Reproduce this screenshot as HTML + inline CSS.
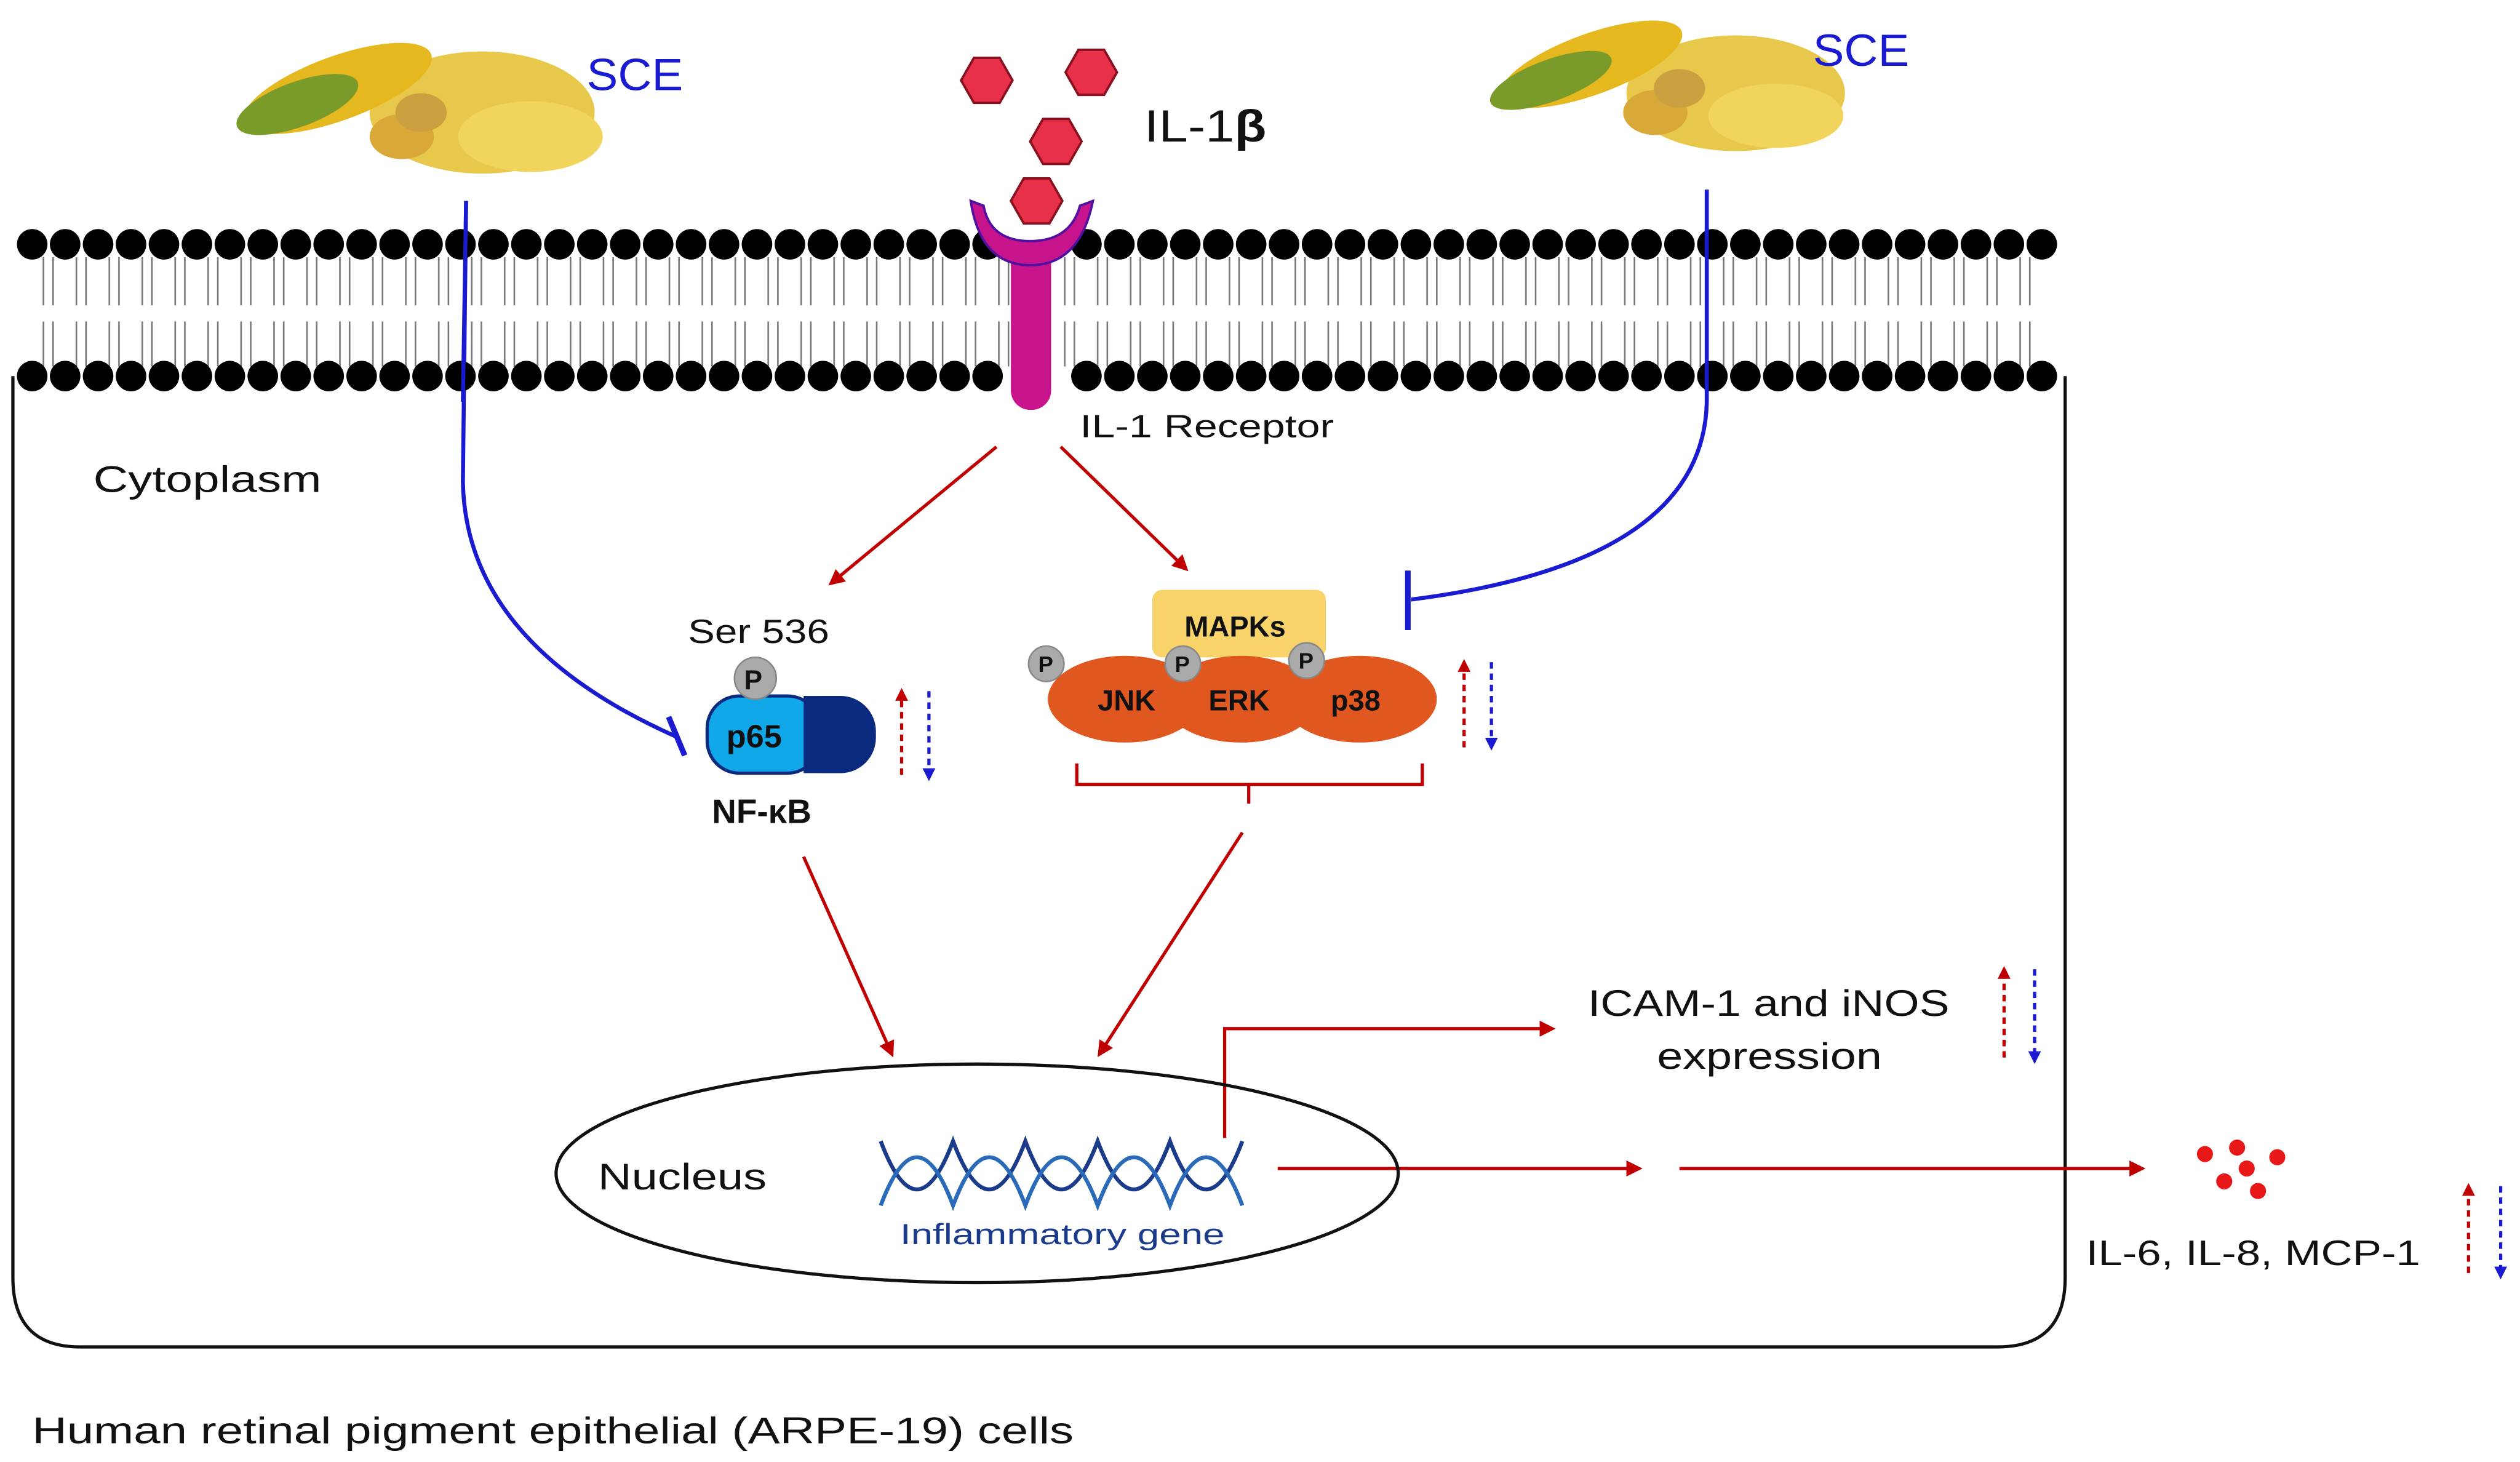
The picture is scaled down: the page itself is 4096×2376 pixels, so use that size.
<!DOCTYPE html>
<html><head><meta charset="utf-8"><style>
html,body{margin:0;padding:0;background:#fff;}
svg{display:block;}
text{font-family:"Liberation Sans",sans-serif;}
</style></head><body>
<svg width="4096" height="2376" viewBox="0 0 1568 909.6" xmlns="http://www.w3.org/2000/svg">
<defs>
<marker id="ar" markerWidth="10" markerHeight="10" refX="8" refY="5" orient="auto" markerUnits="userSpaceOnUse"><path d="M0,0 L10,5 L0,10 z" fill="#c00000"/></marker>
<marker id="ars" markerWidth="8" markerHeight="8" refX="6" refY="4" orient="auto" markerUnits="userSpaceOnUse"><path d="M0,0 L8,4 L0,8 z" fill="#c00000"/></marker>
<marker id="abs" markerWidth="8" markerHeight="8" refX="6" refY="4" orient="auto" markerUnits="userSpaceOnUse"><path d="M0,0 L8,4 L0,8 z" fill="#1a1ad0"/></marker>
<pattern id="tails" x="20" y="0" width="20.5" height="10" patternUnits="userSpaceOnUse">
<line x1="7" y1="0" x2="7" y2="10" stroke="#777" stroke-width="1"/><line x1="13" y1="0" x2="13" y2="10" stroke="#777" stroke-width="1"/>
</pattern>
</defs>
<path d="M8,234 L8,795 Q8,838 50,838 L1243,838 Q1285,838 1285,795 L1285,234" fill="none" stroke="#111" stroke-width="2"/>
<rect x="20" y="160" width="1255" height="30" fill="url(#tails)"/>
<rect x="20" y="200" width="1255" height="28" fill="url(#tails)"/>
<g>
<ellipse cx="300" cy="70" rx="70" ry="38" fill="#e8c84a"/>
<ellipse cx="330" cy="85" rx="45" ry="22" fill="#f0d45c"/>
<ellipse cx="210" cy="55" rx="62" ry="20" fill="#e6b820" transform="rotate(-20 210 55)"/>
<ellipse cx="185" cy="65" rx="40" ry="14" fill="#7a9a2a" transform="rotate(-20 185 65)"/>
<ellipse cx="250" cy="85" rx="20" ry="14" fill="#d8a838"/>
<ellipse cx="262" cy="70" rx="16" ry="12" fill="#caa040"/>
</g>
<text x="365" y="56" font-size="28" fill="#1a1ad0" textLength="60" lengthAdjust="spacingAndGlyphs">SCE</text>
<g>
<ellipse cx="1080" cy="58" rx="68" ry="36" fill="#e8c84a"/>
<ellipse cx="1105" cy="72" rx="42" ry="20" fill="#f0d45c"/>
<ellipse cx="990" cy="40" rx="60" ry="19" fill="#e6b820" transform="rotate(-20 990 40)"/>
<ellipse cx="965" cy="50" rx="40" ry="13" fill="#7a9a2a" transform="rotate(-20 965 50)"/>
<ellipse cx="1030" cy="70" rx="20" ry="14" fill="#d8a838"/>
<ellipse cx="1045" cy="55" rx="16" ry="12" fill="#caa040"/>
</g>
<text x="1128" y="41" font-size="28" fill="#1a1ad0" textLength="60" lengthAdjust="spacingAndGlyphs">SCE</text>
<g fill="#e8304a" stroke="#8a1020" stroke-width="1.5">
<polygon points="598,50 606,36 622,36 630,50 622,64 606,64"/>
<polygon points="663,45 671,31 687,31 695,45 687,59 671,59"/>
<polygon points="641,88 649,74 665,74 673,88 665,102 649,102"/>
<polygon points="629,125 637,111 653,111 661,125 653,139 637,139"/>
</g>
<text x="712" y="88" font-size="28" fill="#111" textLength="76" lengthAdjust="spacingAndGlyphs">IL-1<tspan font-weight="bold">β</tspan></text>
<text x="672" y="272" font-size="20" fill="#111" textLength="158" lengthAdjust="spacingAndGlyphs">IL-1 Receptor</text>
<text x="58" y="306" font-size="23" fill="#111" textLength="142" lengthAdjust="spacingAndGlyphs">Cytoplasm</text>
<path d="M290,125 L288,300 Q290,400 420,458" fill="none" stroke="#1a1ad0" stroke-width="2.5"/>
<line x1="416" y1="446" x2="426" y2="470" stroke="#1a1ad0" stroke-width="3.5"/>
<path d="M1062,118 L1062,250 Q1060,350 878,373" fill="none" stroke="#1a1ad0" stroke-width="2.5"/>
<line x1="876" y1="355" x2="876" y2="392" stroke="#1a1ad0" stroke-width="3.5"/>
<g stroke="#c00000" stroke-width="2" fill="none">
<line x1="620" y1="278" x2="517" y2="363" marker-end="url(#ar)"/>
<line x1="660" y1="278" x2="738" y2="354" marker-end="url(#ar)"/>
<line x1="500" y1="533" x2="555" y2="656" marker-end="url(#ar)"/>
<line x1="773" y1="518" x2="684" y2="656" marker-end="url(#ar)"/>
<path d="M670,475 L670,488 L885,488 L885,475"/>
<line x1="777" y1="488" x2="777" y2="500"/>
<path d="M762,708 L762,640 L966,640" marker-end="url(#ar)"/>
<line x1="795" y1="727" x2="1020" y2="727" marker-end="url(#ar)"/>
<line x1="1045" y1="727" x2="1333" y2="727" marker-end="url(#ar)"/>
</g>
<text x="428" y="400" font-size="21" fill="#111" textLength="88" lengthAdjust="spacingAndGlyphs">Ser 536</text>
<rect x="490" y="433" width="55" height="48" rx="22" fill="#0a2a80"/>
<rect x="440" y="433" width="70" height="48" rx="20" fill="#10a8e8" stroke="#0a2a80" stroke-width="2"/>
<rect x="500" y="433" width="20" height="48" fill="#0a2a80"/>
<text x="452" y="465" font-size="20" font-weight="bold" fill="#111">p65</text>
<circle cx="470" cy="422" r="13" fill="#aaa" stroke="#888"/>
<text x="463" y="429" font-size="17" font-weight="bold" fill="#111">P</text>
<text x="443" y="512" font-size="21" font-weight="bold" fill="#111">NF-κB</text>
<rect x="717" y="367" width="108" height="42" rx="6" fill="#f7d36a"/>
<text x="737" y="396" font-size="18" font-weight="bold" fill="#111">MAPKs</text>
<ellipse cx="700" cy="435" rx="48" ry="27" fill="#e05820"/>
<ellipse cx="846" cy="435" rx="48" ry="27" fill="#e05820"/>
<ellipse cx="772" cy="435" rx="48" ry="27" fill="#e05820"/>
<text x="683" y="442" font-size="18" font-weight="bold" fill="#111">JNK</text>
<text x="752" y="442" font-size="18" font-weight="bold" fill="#111">ERK</text>
<text x="828" y="442" font-size="18" font-weight="bold" fill="#111">p38</text>
<g fill="#aaa" stroke="#888"><circle cx="651" cy="413" r="11"/><circle cx="736" cy="413" r="11"/><circle cx="813" cy="411" r="11"/></g>
<g font-size="14" font-weight="bold" fill="#111"><text x="646" y="418">P</text><text x="731" y="418">P</text><text x="808" y="416">P</text></g>
<g stroke-width="2" stroke-dasharray="4,3" fill="none">
<line x1="561" y1="482" x2="561" y2="430" stroke="#c00000" marker-end="url(#ars)"/>
<line x1="578" y1="430" x2="578" y2="484" stroke="#1a1ad0" marker-end="url(#abs)"/>
<line x1="911" y1="465" x2="911" y2="412" stroke="#c00000" marker-end="url(#ars)"/>
<line x1="928" y1="412" x2="928" y2="465" stroke="#1a1ad0" marker-end="url(#abs)"/>
<line x1="1247" y1="658" x2="1247" y2="603" stroke="#c00000" marker-end="url(#ars)"/>
<line x1="1266" y1="603" x2="1266" y2="660" stroke="#1a1ad0" marker-end="url(#abs)"/>
<line x1="1536" y1="792" x2="1536" y2="738" stroke="#c00000" marker-end="url(#ars)"/>
<line x1="1556" y1="738" x2="1556" y2="794" stroke="#1a1ad0" marker-end="url(#abs)"/>
</g>
<ellipse cx="608" cy="730" rx="262" ry="68" fill="none" stroke="#111" stroke-width="2"/>
<text x="372" y="740" font-size="23" fill="#111" textLength="105" lengthAdjust="spacingAndGlyphs">Nucleus</text>
<path d="M548,710 C563,750 578,750 593,710 C608,750 623,750 638,710 C653,750 668,750 683,710 C698,750 713,750 728,710 C743,750 758,750 773,710" fill="none" stroke="#1a3a8a" stroke-width="2.5"/>
<path d="M548,750 C563,710 578,710 593,750 C608,710 623,710 638,750 C653,710 668,710 683,750 C698,710 713,710 728,750 C743,710 758,710 773,750" fill="none" stroke="#2a6ab8" stroke-width="2.5"/>
<text x="560" y="774" font-size="18" fill="#1a3a8a" textLength="202" lengthAdjust="spacingAndGlyphs">Inflammatory gene</text>
<text x="988" y="632" font-size="23" fill="#111" textLength="225" lengthAdjust="spacingAndGlyphs">ICAM-1 and iNOS</text>
<text x="1031" y="665" font-size="23" fill="#111" textLength="140" lengthAdjust="spacingAndGlyphs">expression</text>
<g fill="#e81818"><circle cx="1372" cy="718" r="5"/><circle cx="1392" cy="714" r="5"/><circle cx="1417" cy="720" r="5"/><circle cx="1398" cy="727" r="5"/><circle cx="1384" cy="735" r="5"/><circle cx="1405" cy="741" r="5"/></g>
<text x="1298" y="787" font-size="22" fill="#111" textLength="208" lengthAdjust="spacingAndGlyphs">IL-6, IL-8, MCP-1</text>
<text x="20" y="898" font-size="23" fill="#111" textLength="648" lengthAdjust="spacingAndGlyphs">Human retinal pigment epithelial (ARPE-19) cells</text>
<g fill="#000">
<circle cx="20" cy="152" r="9.5"/><circle cx="40.5" cy="152" r="9.5"/><circle cx="61" cy="152" r="9.5"/><circle cx="81.5" cy="152" r="9.5"/><circle cx="102" cy="152" r="9.5"/><circle cx="122.5" cy="152" r="9.5"/><circle cx="143" cy="152" r="9.5"/><circle cx="163.5" cy="152" r="9.5"/><circle cx="184" cy="152" r="9.5"/><circle cx="204.5" cy="152" r="9.5"/><circle cx="225" cy="152" r="9.5"/><circle cx="245.5" cy="152" r="9.5"/><circle cx="266" cy="152" r="9.5"/><circle cx="286.5" cy="152" r="9.5"/><circle cx="307" cy="152" r="9.5"/><circle cx="327.5" cy="152" r="9.5"/><circle cx="348" cy="152" r="9.5"/><circle cx="368.5" cy="152" r="9.5"/><circle cx="389" cy="152" r="9.5"/><circle cx="409.5" cy="152" r="9.5"/><circle cx="430" cy="152" r="9.5"/><circle cx="450.5" cy="152" r="9.5"/><circle cx="471" cy="152" r="9.5"/><circle cx="491.5" cy="152" r="9.5"/><circle cx="512" cy="152" r="9.5"/><circle cx="532.5" cy="152" r="9.5"/><circle cx="553" cy="152" r="9.5"/><circle cx="573.5" cy="152" r="9.5"/><circle cx="594" cy="152" r="9.5"/><circle cx="614.5" cy="152" r="9.5"/><circle cx="676" cy="152" r="9.5"/><circle cx="696.5" cy="152" r="9.5"/><circle cx="717" cy="152" r="9.5"/><circle cx="737.5" cy="152" r="9.5"/><circle cx="758" cy="152" r="9.5"/><circle cx="778.5" cy="152" r="9.5"/><circle cx="799" cy="152" r="9.5"/><circle cx="819.5" cy="152" r="9.5"/><circle cx="840" cy="152" r="9.5"/><circle cx="860.5" cy="152" r="9.5"/><circle cx="881" cy="152" r="9.5"/><circle cx="901.5" cy="152" r="9.5"/><circle cx="922" cy="152" r="9.5"/><circle cx="942.5" cy="152" r="9.5"/><circle cx="963" cy="152" r="9.5"/><circle cx="983.5" cy="152" r="9.5"/><circle cx="1004" cy="152" r="9.5"/><circle cx="1024.5" cy="152" r="9.5"/><circle cx="1045" cy="152" r="9.5"/><circle cx="1065.5" cy="152" r="9.5"/><circle cx="1086" cy="152" r="9.5"/><circle cx="1106.5" cy="152" r="9.5"/><circle cx="1127" cy="152" r="9.5"/><circle cx="1147.5" cy="152" r="9.5"/><circle cx="1168" cy="152" r="9.5"/><circle cx="1188.5" cy="152" r="9.5"/><circle cx="1209" cy="152" r="9.5"/><circle cx="1229.5" cy="152" r="9.5"/><circle cx="1250" cy="152" r="9.5"/><circle cx="1270.5" cy="152" r="9.5"/>
<circle cx="20" cy="234" r="9.5"/><circle cx="40.5" cy="234" r="9.5"/><circle cx="61" cy="234" r="9.5"/><circle cx="81.5" cy="234" r="9.5"/><circle cx="102" cy="234" r="9.5"/><circle cx="122.5" cy="234" r="9.5"/><circle cx="143" cy="234" r="9.5"/><circle cx="163.5" cy="234" r="9.5"/><circle cx="184" cy="234" r="9.5"/><circle cx="204.5" cy="234" r="9.5"/><circle cx="225" cy="234" r="9.5"/><circle cx="245.5" cy="234" r="9.5"/><circle cx="266" cy="234" r="9.5"/><circle cx="286.5" cy="234" r="9.5"/><circle cx="307" cy="234" r="9.5"/><circle cx="327.5" cy="234" r="9.5"/><circle cx="348" cy="234" r="9.5"/><circle cx="368.5" cy="234" r="9.5"/><circle cx="389" cy="234" r="9.5"/><circle cx="409.5" cy="234" r="9.5"/><circle cx="430" cy="234" r="9.5"/><circle cx="450.5" cy="234" r="9.5"/><circle cx="471" cy="234" r="9.5"/><circle cx="491.5" cy="234" r="9.5"/><circle cx="512" cy="234" r="9.5"/><circle cx="532.5" cy="234" r="9.5"/><circle cx="553" cy="234" r="9.5"/><circle cx="573.5" cy="234" r="9.5"/><circle cx="594" cy="234" r="9.5"/><circle cx="614.5" cy="234" r="9.5"/><circle cx="676" cy="234" r="9.5"/><circle cx="696.5" cy="234" r="9.5"/><circle cx="717" cy="234" r="9.5"/><circle cx="737.5" cy="234" r="9.5"/><circle cx="758" cy="234" r="9.5"/><circle cx="778.5" cy="234" r="9.5"/><circle cx="799" cy="234" r="9.5"/><circle cx="819.5" cy="234" r="9.5"/><circle cx="840" cy="234" r="9.5"/><circle cx="860.5" cy="234" r="9.5"/><circle cx="881" cy="234" r="9.5"/><circle cx="901.5" cy="234" r="9.5"/><circle cx="922" cy="234" r="9.5"/><circle cx="942.5" cy="234" r="9.5"/><circle cx="963" cy="234" r="9.5"/><circle cx="983.5" cy="234" r="9.5"/><circle cx="1004" cy="234" r="9.5"/><circle cx="1024.5" cy="234" r="9.5"/><circle cx="1045" cy="234" r="9.5"/><circle cx="1065.5" cy="234" r="9.5"/><circle cx="1086" cy="234" r="9.5"/><circle cx="1106.5" cy="234" r="9.5"/><circle cx="1127" cy="234" r="9.5"/><circle cx="1147.5" cy="234" r="9.5"/><circle cx="1168" cy="234" r="9.5"/><circle cx="1188.5" cy="234" r="9.5"/><circle cx="1209" cy="234" r="9.5"/><circle cx="1229.5" cy="234" r="9.5"/><circle cx="1250" cy="234" r="9.5"/><circle cx="1270.5" cy="234" r="9.5"/>
</g>
<rect x="629" y="150" width="25" height="105" rx="12" fill="#c8148c"/>
<path d="M604,125 Q610,165 641,165 Q672,165 680,125 L672,128 Q666,150 641,150 Q616,150 612,128 z" fill="#c8148c" stroke="#5010a0" stroke-width="1.5"/>
<line x1="1062" y1="118" x2="1062" y2="250" stroke="#1a1ad0" stroke-width="2.5"/>
<line x1="290" y1="125" x2="288" y2="250" stroke="#1a1ad0" stroke-width="2.5"/>
</svg>
</body></html>
